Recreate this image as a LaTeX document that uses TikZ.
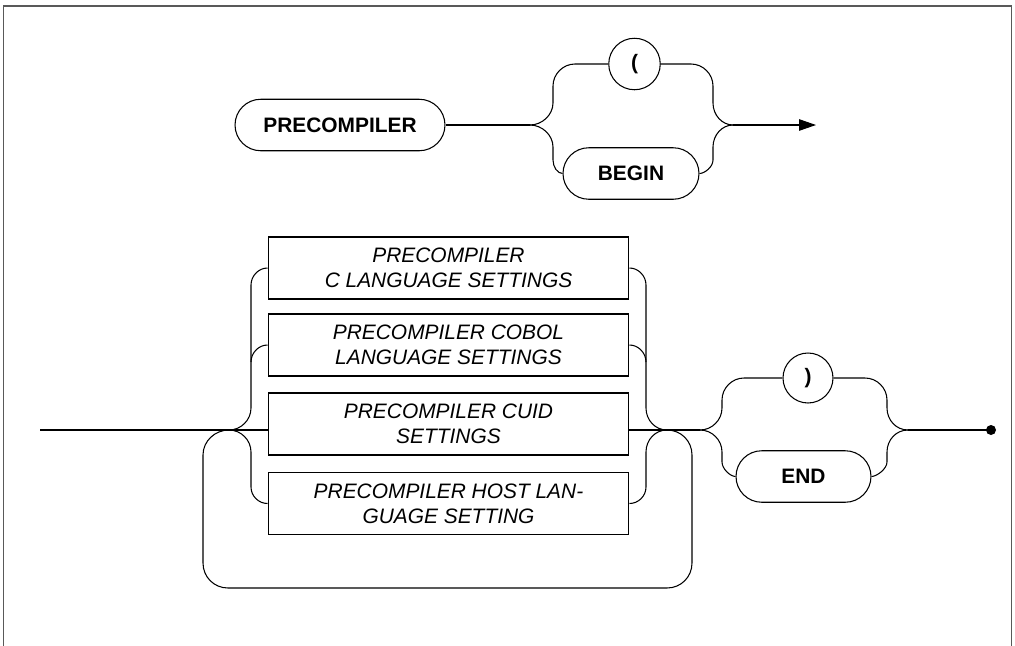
\documentclass[tikz,border=0pt]{standalone}
\usepackage{fontspec}
\setmainfont{Liberation Sans}
\usetikzlibrary{shapes.misc,arrows.meta}
\begin{document}
\begin{tikzpicture}[x=0.02cm,y=-0.02cm,
  line width=0.6pt,
  frame/.style={draw=black!65, line width=0.9pt},
  term/.style={rounded rectangle, draw, minimum height=1.03cm, inner sep=0pt,
    font=\fontsize{11.9}{14.2}\selectfont\bfseries},
  circ/.style={circle, draw, minimum size=1.03cm, inner sep=0pt,
    font=\fontsize{11.9}{14.2}\selectfont\bfseries},
  nonterm/.style={rectangle, draw, minimum width=7.22cm, minimum height=1.24cm,
    inner sep=0pt, align=center, font=\fontsize{11.9}{14.2}\selectfont\itshape},
  endarrow/.style={-{Triangle[length=0.34cm,width=0.23cm]}}
]
\useasboundingbox (0,0) rectangle (1015,646);
% frame
\draw[frame] (3.5,646) -- (3.5,6) -- (1011.5,6) -- (1011.5,646);

% ---------- top row ----------
\node[term, minimum width=4.2cm] (pre) at (340,125) {PRECOMPILER};
\node[circ] (lp) at (634.5,64) {(};
\node[term, minimum width=2.72cm] (begin) at (631,173.5) {BEGIN};
\coordinate (jT1) at (530,125);
\coordinate (jT2) at (733,125);
\coordinate (aend) at (816,125);

\draw (pre.east) -- (jT1);
\draw (jT1) .. controls +(12,0) and +(0,12) .. (553,103) -- (553,86)
  .. controls +(0,-12) and +(-12,0) .. (575,64) -- (lp.west);
\draw (lp.east) -- (691,64) .. controls +(12,0) and +(0,-12) .. (713,86)
  -- (713,103) .. controls +(0,12) and +(-11,0) .. (jT2);
\draw (jT1) .. controls +(12,0) and +(0,-12) .. (553,147) -- (553,160)
  .. controls +(0,7) and +(-5,0) .. (begin.west);
\draw (begin.east) .. controls +(5,0) and +(0,7) .. (713,160) -- (713,147)
  .. controls +(0,-12) and +(-11,0) .. (jT2);
\draw[endarrow] (jT2) -- (aend);

% ---------- bottom row ----------
\node[nonterm] (b1) at (448.5,268) {PRECOMPILER\\C LANGUAGE SETTINGS};
\node[nonterm] (b2) at (448.5,345) {PRECOMPILER COBOL\\LANGUAGE SETTINGS};
\node[nonterm] (b3) at (448.5,424) {PRECOMPILER CUID\\SETTINGS};
\node[nonterm] (b4) at (448.5,503.5) {PRECOMPILER HOST LAN-\\GUAGE SETTING};
\node[circ, minimum size=1.0cm] (rp) at (808,378) {)};
\node[term, minimum width=2.7cm] (end) at (803.5,476.5) {END};

\coordinate (start) at (40,430);
\coordinate (jL) at (229,430);
\coordinate (jR) at (667,430);
\coordinate (jS) at (700,430);
\coordinate (jE) at (908,430);
\coordinate (stop) at (991,430);

% main line
\draw (start) -- (jL) -- (b3.west |- jL);
\draw (b3.east |- jR) -- (jR) -- (jS);
% left fan
\draw (jL) .. controls +(12,0) and +(0,12) .. (251,408) -- (251,285)
  .. controls +(0,-9) and +(-9,0) .. (b1.west);
\draw (251,362) .. controls +(0,-9) and +(-9,0) .. (b2.west);
\draw (jL) .. controls +(12,0) and +(0,-12) .. (251,452) -- (251,487)
  .. controls +(0,9) and +(-9,0) .. (b4.west);
% right fan
\draw (b1.east) .. controls +(9,0) and +(0,-9) .. (646,285) -- (646,408)
  .. controls +(0,12) and +(-12,0) .. (jR);
\draw (b2.east) .. controls +(9,0) and +(0,-9) .. (646,362);
\draw (b4.east) .. controls +(9,0) and +(0,9) .. (646,487) -- (646,452)
  .. controls +(0,-12) and +(-12,0) .. (jR);
% repeat loop
\draw (jR) .. controls +(14,0) and +(0,-14) .. (692,455) -- (692,563)
  .. controls +(0,14) and +(14,0) .. (667,588) -- (228,588)
  .. controls +(-14,0) and +(0,14) .. (203,563) -- (203,455)
  .. controls +(0,-14) and +(-14,0) .. (jL);
% second choice
\draw (jS) .. controls +(12,0) and +(0,12) .. (722,408) -- (722,400)
  .. controls +(0,-12) and +(-12,0) .. (744,378) -- (rp.west);
\draw (rp.east) -- (865,378) .. controls +(12,0) and +(0,-12) .. (887,400)
  -- (887,408) .. controls +(0,12) and +(-12,0) .. (jE);
\draw (jS) .. controls +(12,0) and +(0,-12) .. (722,452) -- (722,462)
  .. controls +(0,7) and +(-5,0) .. (end.west);
\draw (end.east) .. controls +(5,0) and +(0,7) .. (887,462) -- (887,452)
  .. controls +(0,-12) and +(-12,0) .. (jE);
\draw (jE) -- (stop);
\fill (stop) circle[radius=5];
\end{tikzpicture}
\end{document}
